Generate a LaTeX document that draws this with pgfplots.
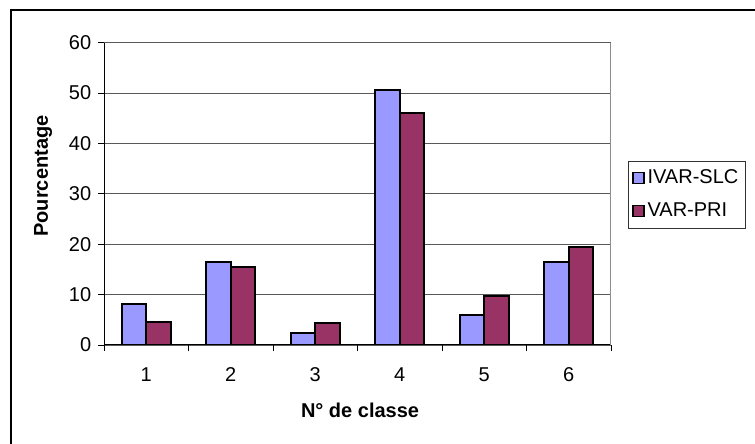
\documentclass[border=0pt]{standalone}
\usepackage{fontspec}
\setmainfont{Liberation Sans}
\usepackage{pgfplots}
\pgfplotsset{compat=1.18}
\definecolor{barblue}{RGB}{153,153,255}
\definecolor{barred}{RGB}{153,51,102}
\begin{document}
\fontsize{20}{24}\selectfont
\begin{tikzpicture}
\useasboundingbox (0pt,0pt) rectangle (755pt,444pt);
\clip (0pt,0pt) rectangle (755pt,444pt);
\fill[white] (0pt,0pt) rectangle (755pt,444pt);
\draw[line width=2.2pt] (11pt,-20pt) -- (11pt,434pt) -- (790pt,434pt);
\begin{axis}[
  at={(104pt,99pt)}, anchor=south west,
  scale only axis, width=507pt, height=302.3pt,
  ybar=0pt, bar width=24.5pt,
  xmin=0.5, xmax=6.5, ymin=0, ymax=60,
  xtick={0.5,1.5,...,6.5}, xticklabels={},
  extra x ticks={1,2,3,4,5,6},
  extra x tick labels={1,2,3,4,5,6},
  extra x tick style={major tick length=0pt},
  xticklabel style={yshift=-16pt},
  ytick={0,10,...,60},
  /pgf/number format/assume math mode=true,
  tick align=outside, major tick length=6pt,
  tick style={black, line width=0.8pt},
  axis lines*=left, axis line style={black, line width=1pt, -},
  ymajorgrids, grid style={black!65, line width=0.8pt},
  ylabel={Pourcentage},
  ylabel style={at={(axis description cs:-0.1203,0.559)}, anchor=center, font=\bfseries},
  xlabel={N° de classe},
  xlabel style={at={(axis description cs:0.505,-0.215)}, anchor=center, font=\bfseries},
  legend style={at={(axis description cs:1.0335,0.6087)}, anchor=north west,
    draw=black!80, line width=0.8pt, fill=white, inner xsep=4pt, inner ysep=4pt,
    row sep=7pt, nodes={inner sep=3pt, text height=15pt, text depth=5pt}},
  legend cell align=left,
  legend image code/.code={\draw[#1, line width=1.2pt, draw=black] (0pt,-5.5pt) rectangle (11pt,5.5pt);},
]
\addplot[fill=barblue, draw=black, line width=1.7pt] coordinates {(1,8.1) (2,16.5) (3,2.45) (4,50.6) (5,5.9) (6,16.5)};
\addplot[fill=barred, draw=black, line width=1.7pt] coordinates {(1,4.6) (2,15.5) (3,4.3) (4,46.0) (5,9.7) (6,19.5)};
\legend{IVAR-SLC, VAR-PRI}
\draw[black!45, line width=1pt] (rel axis cs:1,0) -- (rel axis cs:1,1);
\end{axis}
\end{tikzpicture}
\end{document}
